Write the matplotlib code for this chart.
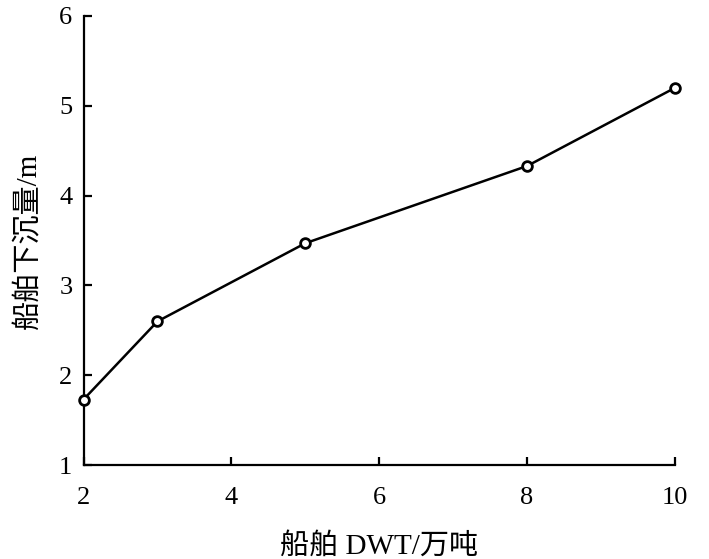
import matplotlib
matplotlib.use("Agg")
import matplotlib.pyplot as plt

dwt = [2, 3, 5, 8, 10]
draft = [1.73, 2.60, 3.47, 4.33, 5.20]
xticks = [2, 4, 6, 8, 10]
yticks = [1, 2, 3, 4, 5, 6]

plt.rcParams['font.family'] = ['Liberation Serif', 'Noto Sans CJK SC']
plt.rcParams['mathtext.fontset'] = 'stix'

fig = plt.figure(figsize=(7.09, 5.59), dpi=100)
ax = fig.add_axes([0.1178, 0.168, 0.952 - 0.1178, 0.9714 - 0.168])
ax.plot(dwt, draft, color='black', linewidth=1.8, marker='o', markersize=7,
        markerfacecolor='white', markeredgecolor='black', markeredgewidth=2, clip_on=False, zorder=3)
ax.set_xlim(2, 10)
ax.set_ylim(1, 6)
ax.set_xticks(xticks)
ax.set_yticks(yticks)
for s in ['top', 'right']:
    ax.spines[s].set_visible(False)
for s in ['left', 'bottom']:
    ax.spines[s].set_linewidth(1.6)
ax.tick_params(direction='in', length=6, width=1.6, labelsize=19)
ax.tick_params(axis='x', pad=16)
ax.tick_params(axis='y', pad=8)
ax.set_xlabel('船舶 DWT/万吨', fontsize=21, labelpad=17)
ax.set_ylabel('船舶下沉量/m', fontsize=21, labelpad=12)
fig.savefig('out.png', dpi=100)
